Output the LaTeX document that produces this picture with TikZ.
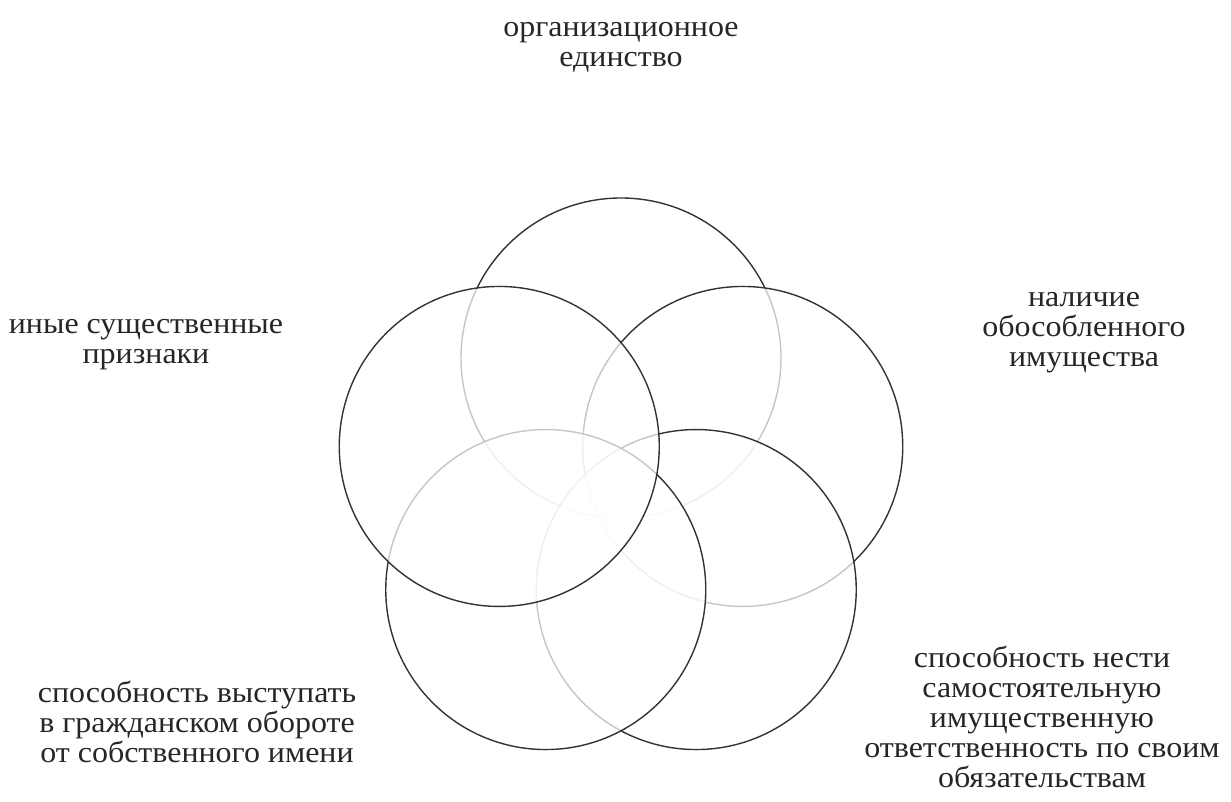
\documentclass[tikz,border=0pt]{standalone}
\usepackage{fontspec}
\setmainfont{Liberation Serif}[FakeStretch=1.065]
\newcommand\mytightlines{\lineskiplimit=-100pt\relax}
\begin{document}
\begin{tikzpicture}[x=0.5pt,y=-0.5pt,
  ring/.style={circle,draw=black!80,line width=0.7pt,fill=white,fill opacity=0.72,draw opacity=1,inner sep=0pt,minimum size=160pt},
  lbl/.style={align=center,text=black!85,font=\fontsize{15}{15}\selectfont\mytightlines,inner sep=0pt}]
\useasboundingbox (0,0) rectangle (1231,802);
\def\pcx{621}\def\pcy{486}
% circles, drawn bottom-most first
\node[ring] (T)  at ({\pcx+128*cos(90)},{\pcy-128*sin(90)}) {};
\node[ring] (R)  at ({\pcx+128*cos(18)},{\pcy-128*sin(18)}) {};
\node[ring] (BR) at ({\pcx+128*cos(-54)},{\pcy-128*sin(-54)}) {};
\node[ring] (BL) at ({\pcx+128*cos(234)},{\pcy-128*sin(234)}) {};
\node[ring] (L)  at ({\pcx+128*cos(162)},{\pcy-128*sin(162)}) {};
% labels
\node[lbl] (tT)  at (621,46) {\strut организационное\\\strut единство};
\node[lbl] (tL)  at (146,342) {\strut иные существенные\\\strut признаки};
\node[lbl] (tR)  at (1084,330) {\strut наличие\\\strut обособленного\\\strut имущества};
\node[lbl] (tBL) at (197,726) {\strut способность выступать\\\strut в гражданском обороте\\\strut от собственного имени};
\node[lbl] (tBR) at (1042,721) {\strut способность нести\\\strut самостоятельную\\\strut имущественную\\\strut ответственность по своим\\\strut обязательствам};
\end{tikzpicture}
\end{document}
